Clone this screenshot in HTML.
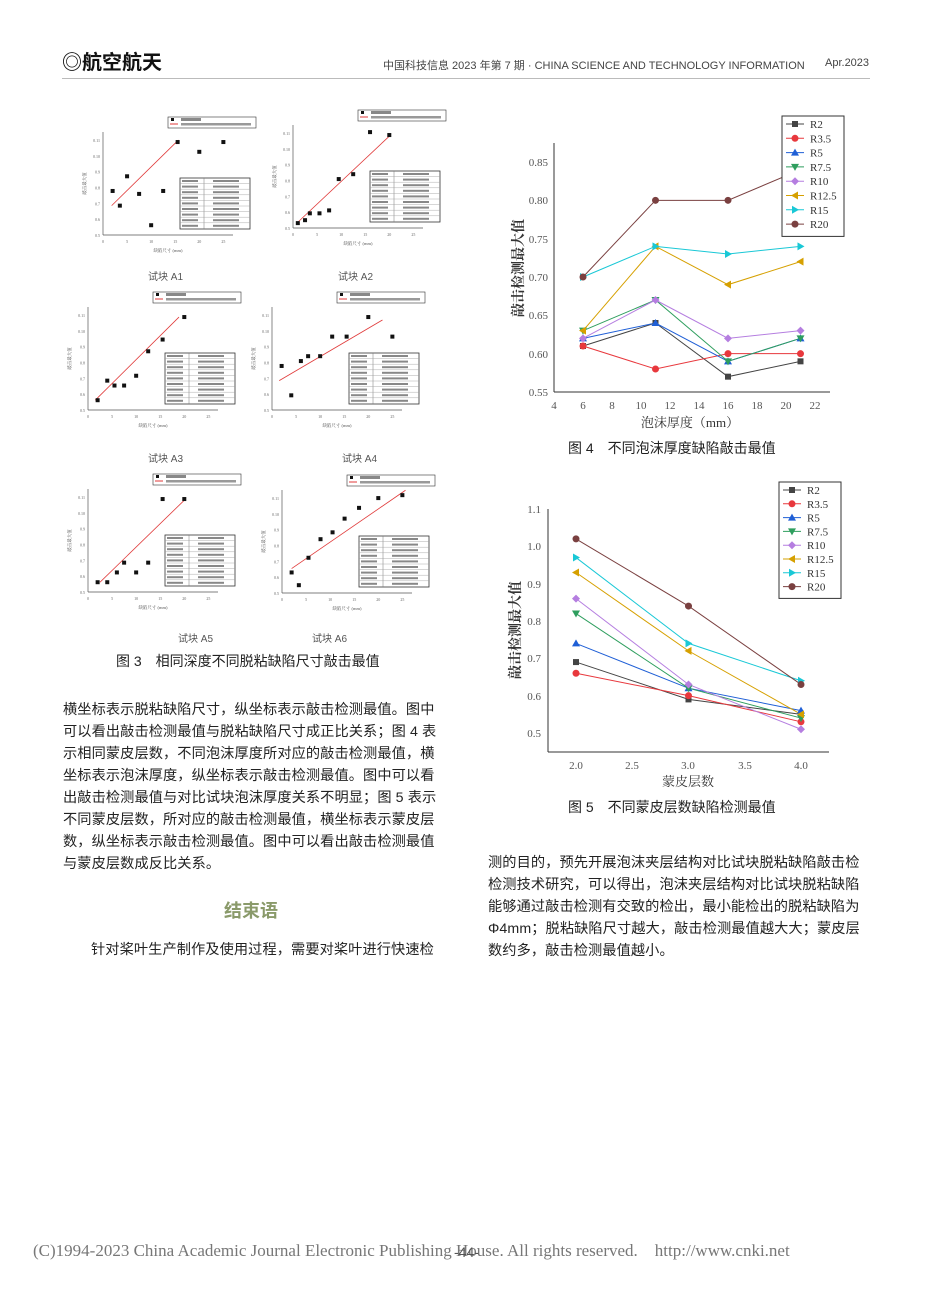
<!DOCTYPE html>
<html><head><meta charset="utf-8">
<style>
body{margin:0;background:#fff;width:950px;height:1290px;position:relative;overflow:hidden;font-family:"Liberation Sans","Noto Sans CJK SC",sans-serif;color:#222}
.a{position:absolute;white-space:nowrap}
.p{position:absolute;font-size:14.2px;line-height:22px;color:#222;letter-spacing:0.1px}
svg text{font-family:"Liberation Serif","Noto Serif CJK SC",serif}
</style></head><body>
<div class="a" style="left:62px;top:46px;font-size:20px;font-weight:bold;color:#111">◎航空航天</div>
<div class="a" style="left:383px;top:57px;font-size:11px;color:#444">中国科技信息 2023 年第 7 期 · CHINA SCIENCE AND TECHNOLOGY INFORMATION</div>
<div class="a" style="left:825px;top:57px;font-size:11px;color:#444">Apr.2023</div>
<div class="a" style="left:62px;top:78px;width:808px;height:1px;background:#bbb"></div>

<svg id="s" class="a" style="left:0;top:0" width="950" height="1290">
<g font-size="11" fill="#555">
<line x1="554" y1="143" x2="554" y2="392" stroke="#333"/>
<line x1="554" y1="392" x2="830" y2="392" stroke="#333"/>
<text x="548" y="166" text-anchor="end">0.85</text>
<text x="548" y="204" text-anchor="end">0.80</text>
<text x="548" y="243" text-anchor="end">0.75</text>
<text x="548" y="281" text-anchor="end">0.70</text>
<text x="548" y="319" text-anchor="end">0.65</text>
<text x="548" y="358" text-anchor="end">0.60</text>
<text x="548" y="396" text-anchor="end">0.55</text>
<text x="554" y="409" text-anchor="middle">4</text><text x="583" y="409" text-anchor="middle">6</text><text x="612" y="409" text-anchor="middle">8</text><text x="641" y="409" text-anchor="middle">10</text><text x="670" y="409" text-anchor="middle">12</text><text x="699" y="409" text-anchor="middle">14</text><text x="728" y="409" text-anchor="middle">16</text><text x="757" y="409" text-anchor="middle">18</text><text x="786" y="409" text-anchor="middle">20</text><text x="815" y="409" text-anchor="middle">22</text>
<text x="690" y="427" text-anchor="middle" font-size="13" fill="#333">泡沫厚度（mm）</text>
<text transform="translate(523,268) rotate(-90)" text-anchor="middle" font-size="14" fill="#333" font-weight="bold">敲击检测最大值</text>
</g>
<g font-size="11" fill="#555">
<line x1="548" y1="509" x2="548" y2="752" stroke="#333"/>
<line x1="548" y1="752" x2="829" y2="752" stroke="#333"/>
<text x="541" y="513" text-anchor="end">1.1</text>
<text x="541" y="550" text-anchor="end">1.0</text>
<text x="541" y="588" text-anchor="end">0.9</text>
<text x="541" y="625" text-anchor="end">0.8</text>
<text x="541" y="662" text-anchor="end">0.7</text>
<text x="541" y="700" text-anchor="end">0.6</text>
<text x="541" y="737" text-anchor="end">0.5</text>
<text x="576" y="769" text-anchor="middle">2.0</text><text x="632" y="769" text-anchor="middle">2.5</text><text x="688" y="769" text-anchor="middle">3.0</text><text x="745" y="769" text-anchor="middle">3.5</text><text x="801" y="769" text-anchor="middle">4.0</text>
<text x="688" y="786" text-anchor="middle" font-size="13" fill="#333">蒙皮层数</text>
<text transform="translate(520,630) rotate(-90)" text-anchor="middle" font-size="14" fill="#333" font-weight="bold">敲击检测最大值</text>
</g>
</svg>

<div class="a" style="left:568px;top:438px;font-size:14px">图 4　不同泡沫厚度缺陷敲击最值</div>
<div class="a" style="left:568px;top:797px;font-size:14px">图 5　不同蒙皮层数缺陷检测最值</div>
<div class="a" style="left:116px;top:651px;font-size:14px">图 3　相同深度不同脱粘缺陷尺寸敲击最值</div>

<div class="p" style="left:63px;top:699px;width:385px">横坐标表示脱粘缺陷尺寸，纵坐标表示敲击检测最值。图中<br>可以看出敲击检测最值与脱粘缺陷尺寸成正比关系；图 4 表<br>示相同蒙皮层数，不同泡沫厚度所对应的敲击检测最值，横<br>坐标表示泡沫厚度，纵坐标表示敲击检测最值。图中可以看<br>出敲击检测最值与对比试块泡沫厚度关系不明显；图 5 表示<br>不同蒙皮层数，所对应的敲击检测最值，横坐标表示蒙皮层<br>数，纵坐标表示敲击检测最值。图中可以看出敲击检测最值<br>与蒙皮层数成反比关系。</div>
<div class="a" style="left:224px;top:897px;font-size:18px;color:#8a9a6a;font-weight:bold">结束语</div>
<div class="p" style="left:91px;top:939px">针对桨叶生产制作及使用过程，需要对桨叶进行快速检</div>
<div class="p" style="left:488px;top:852px;width:385px">测的目的，预先开展泡沫夹层结构对比试块脱粘缺陷敲击检<br>检测技术研究，可以得出，泡沫夹层结构对比试块脱粘缺陷<br>能够通过敲击检测有交致的检出，最小能检出的脱粘缺陷为<br>Φ4mm；脱粘缺陷尺寸越大，敲击检测最值越大大；蒙皮层<br>数约多，敲击检测最值越小。</div>

<div class="a" style="left:33px;top:1241px;font-size:17px;color:#777;font-family:'Liberation Serif',serif">(C)1994-2023 China Academic Journal Electronic Publishing House. All rights reserved.&nbsp;&nbsp;&nbsp;&nbsp;http://www.cnki.net</div>
<div class="a" style="left:454px;top:1244px;font-size:14px;color:#555">-44-</div>

<div class="a" style="left:148px;top:268px;font-size:10px;color:#555">试块 A1</div>
<div class="a" style="left:338px;top:268px;font-size:10px;color:#555">试块 A2</div>
<div class="a" style="left:148px;top:450px;font-size:10px;color:#555">试块 A3</div>
<div class="a" style="left:342px;top:450px;font-size:10px;color:#555">试块 A4</div>
<div class="a" style="left:178px;top:630px;font-size:10px;color:#555">试块 A5</div>
<div class="a" style="left:312px;top:630px;font-size:10px;color:#555">试块 A6</div>

<script>
var NS="http://www.w3.org/2000/svg",s=document.getElementById('s');
function el(t,a,p){var e=document.createElementNS(NS,t);for(var k in a)e.setAttribute(k,a[k]);(p||s).appendChild(e);return e;}
var C=["#444","#e8383d","#1f5fd6","#2e9e5e","#b57ee0","#d6a000","#19c8d6","#7a4040"];
var N=["R2","R3.5","R5","R7.5","R10","R12.5","R15","R20"];
function mk(i,x,y){var c=C[i],r=3.5;
 if(i==0)el('rect',{x:x-3,y:y-3,width:6,height:6,fill:c});
 else if(i==1||i==7)el('circle',{cx:x,cy:y,r:r,fill:c});
 else if(i==2)el('polygon',{points:(x)+','+(y-4)+' '+(x-4)+','+(y+3)+' '+(x+4)+','+(y+3),fill:c});
 else if(i==3)el('polygon',{points:(x)+','+(y+4)+' '+(x-4)+','+(y-3)+' '+(x+4)+','+(y-3),fill:c});
 else if(i==4)el('polygon',{points:x+','+(y-4)+' '+(x+4)+','+y+' '+x+','+(y+4)+' '+(x-4)+','+y,fill:c});
 else if(i==5)el('polygon',{points:(x-4)+','+y+' '+(x+3)+','+(y-4)+' '+(x+3)+','+(y+4),fill:c});
 else el('polygon',{points:(x+4)+','+y+' '+(x-3)+','+(y-4)+' '+(x-3)+','+(y+4),fill:c});}
function series(xs,data,Y){for(var i=0;i<8;i++){var pts=xs.map(function(x,j){return x+','+Y(data[i][j]);}).join(' ');
 el('polyline',{points:pts,fill:'none',stroke:C[i],'stroke-width':1});}
 for(var i=0;i<8;i++)xs.forEach(function(x,j){mk(i,x,Y(data[i][j]));});}
var d4=[[.61,.64,.57,.59],[.61,.58,.60,.60],[.62,.64,.59,.62],[.63,.67,.59,.62],[.62,.67,.62,.63],[.63,.74,.69,.72],[.70,.74,.73,.74],[.70,.80,.80,.84]];
series([583,655.5,728,800.5],d4,function(v){return 392-(v-0.55)*766.7;});
var d5=[[.69,.59,.55],[.66,.60,.53],[.74,.62,.56],[.82,.62,.54],[.86,.63,.51],[.93,.72,.55],[.97,.74,.64],[1.02,.84,.63]];
series([576,688.5,801],d5,function(v){return 733-(v-0.5)*373.3;});
function legend(x,y,h){el('rect',{x:x,y:y,width:62,height:h*8+6,fill:'#fff',stroke:'#333'});
 for(var i=0;i<8;i++){var yy=y+8+i*h;el('line',{x1:x+4,y1:yy,x2:x+22,y2:yy,stroke:C[i]});mk(i,x+13,yy);
 var t=el('text',{x:x+28,y:yy+4,'font-size':11,fill:'#333'});t.textContent=N[i];}}
legend(782,116,14.3);legend(779,482,13.8);
var P=[[103,235,[[.2,.45],[.35,.3],[.5,.6],[.75,.42],[1.0,.1],[1.25,.45],[1.55,.95],[2.0,.85],[2.5,.95]],[.18,.3],[.58,.97]],
[293,228,[[.1,.05],[.25,.08],[.35,.15],[.55,.15],[.75,.18],[.95,.5],[1.25,.55],[1.6,.98],[2.0,.95]],[.08,.05],[.75,.95]],
[88,410,[[.2,.1],[.4,.3],[.55,.25],[.75,.25],[1.0,.35],[1.25,.6],[1.55,.72],[2.0,.95]],[.15,.1],[.7,.95]],
[272,410,[[.2,.45],[.4,.15],[.6,.5],[.75,.55],[1.0,.55],[1.25,.75],[1.55,.75],[2.0,.95],[2.5,.75]],[.15,.3],[.85,.92]],
[88,592,[[.2,.1],[.4,.1],[.6,.2],[.75,.3],[1.0,.2],[1.25,.3],[1.55,.95],[2.0,.95]],[.25,.1],[.75,.95]],
[282,593,[[.2,.21],[.35,.08],[.55,.36],[.8,.55],[1.05,.62],[1.3,.76],[1.6,.87],[2.0,.97],[2.5,1.0]],[.2,.25],[.95,1.05]]];
P.forEach(function(p){var ox=p[0],oy=p[1],W=130,H=103,sx=W/2.7;
 el('line',{x1:ox,y1:oy,x2:ox,y2:oy-H,stroke:'#555','stroke-width':.7});
 el('line',{x1:ox,y1:oy,x2:ox+W,y2:oy,stroke:'#555','stroke-width':.7});
 for(var k=0;k<7;k++){var t=el('text',{x:ox-3,y:oy-k*H/6.5+2,'font-size':4,'text-anchor':'end',fill:'#666'});t.textContent='0.'+(5+k);}
 for(var k=0;k<6;k++){var t=el('text',{x:ox+k*sx*0.5,y:oy+8,'font-size':4,'text-anchor':'middle',fill:'#666'});t.textContent=k*5;}
 var t=el('text',{x:ox+W/2,y:oy+17,'font-size':4.5,'text-anchor':'middle',fill:'#555'});t.textContent='缺陷尺寸 (mm)';
 var t=el('text',{transform:'translate('+(ox-17)+','+(oy-H/2)+') rotate(-90)','font-size':4.5,'text-anchor':'middle',fill:'#555'});t.textContent='敲击最大值';
 el('line',{x1:ox+p[3][0]*sx,y1:oy-p[3][1]*H*.95,x2:ox+p[4][0]*W,y2:oy-p[4][1]*H*.95,stroke:'#e03a3a','stroke-width':.8});
 p[2].forEach(function(q){el('rect',{x:ox+q[0]*sx-2,y:oy-q[1]*H*.95-2,width:4,height:4,fill:'#111'});});
 el('rect',{x:ox+65,y:oy-118,width:88,height:11,fill:'#fff',stroke:'#333','stroke-width':.6});
 el('rect',{x:ox+68,y:oy-117,width:3,height:3,fill:'#111'});
 el('line',{x1:ox+67,y1:oy-111,x2:ox+75,y2:oy-111,stroke:'#e03a3a'});
 el('rect',{x:ox+78,y:oy-117,width:20,height:3,fill:'#888'});
 el('rect',{x:ox+78,y:oy-112,width:70,height:2.5,fill:'#999'});
 el('rect',{x:ox+77,y:oy-57,width:70,height:51,fill:'#fff',stroke:'#333','stroke-width':.8});
 el('line',{x1:ox+101,y1:oy-57,x2:ox+101,y2:oy-6,stroke:'#777','stroke-width':.5});
 for(var k=1;k<9;k++)el('line',{x1:ox+77,y1:oy-57+k*5.6,x2:ox+147,y2:oy-57+k*5.6,stroke:'#999','stroke-width':.4});
 for(var k=0;k<9;k++){el('rect',{x:ox+79,y:oy-55+k*5.6,width:16,height:2,fill:'#888'});el('rect',{x:ox+110,y:oy-55+k*5.6,width:26,height:2,fill:'#888'});}
});
</script>
</body></html>
